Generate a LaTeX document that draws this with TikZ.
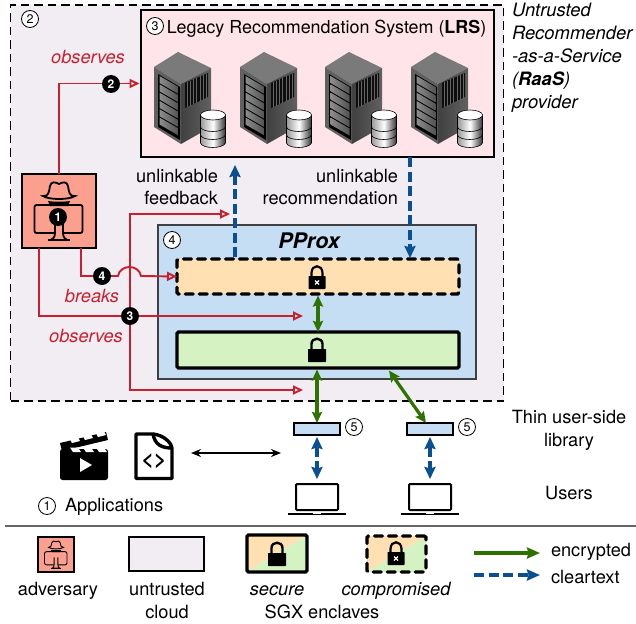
\documentclass[tikz,border=0pt]{standalone}
\usepackage{fontspec}
\setmainfont{TeX Gyre Heros}
\usetikzlibrary{arrows.meta}
\pgfdeclarelayer{top}
\pgfsetlayers{main,top}
\definecolor{nube}{HTML}{F2EDF3}
\definecolor{rosa}{HTML}{FFE4E9}
\definecolor{salmon}{HTML}{FBA08F}
\definecolor{celeste}{HTML}{C5DEF3}
\definecolor{crema}{HTML}{FFE0B2}
\definecolor{verdeclaro}{HTML}{D5F2C2}
\definecolor{rojo}{HTML}{C8202F}
\definecolor{verde}{HTML}{2E7300}
\definecolor{azul}{HTML}{0A4F8F}

\tikzset{
  punta/.tip={Stealth[length=12pt, width=11pt, inset=1.5pt]},
  estilo diagrama/.style={
      x=1pt, y=-1pt,
      every node/.style={font={\fontsize{18.2}{22.5}\selectfont}, inner sep=0pt, outer sep=0pt},
      caja/.style={draw, rectangle, anchor=north west, line width=1.8pt},
      enclave/.style={caja, line width=3.4pt, rounded corners=1.5pt},
      roto/.style={dash pattern=on 8pt off 6pt, line cap=round},
      num/.style={circle, draw, fill=white, minimum size=17pt, line width=.8pt, font={\fontsize{12.5}{12}\selectfont}},
      punto/.style={circle, fill=black, text=white, minimum size=18pt, font={\fontsize{12}{12}\bfseries\selectfont}},
      ataque/.style={rojo, line width=1.9pt, -{Triangle[open, length=10pt, width=9pt]}},
      cifrado/.style={verde, line width=3.2pt, {Stealth[length=11pt, width=10pt, inset=1.5pt]}-{Stealth[length=11pt, width=10pt, inset=1.5pt]}},
      claro/.style={azul, line width=3.2pt, dash pattern=on 10pt off 4.5pt},
      rojizo/.style={text=rojo, font={\fontsize{18.2}{20}\itshape\selectfont}},
      cursiva/.style={font={\fontsize{18.2}{20}\itshape\selectfont}},
      diagonal/.style={path picture={
          \fill[crema] (path picture bounding box.south west) -- (path picture bounding box.north west) -- (path picture bounding box.north east) -- cycle;
          \fill[verdeclaro] (path picture bounding box.south west) -- (path picture bounding box.south east) -- (path picture bounding box.north east) -- cycle;}},
    },
  servidor/.pic={
      \fill[black!52] (0,15) -- (24,0) -- (57,16) -- (27,32) -- cycle;
      \shade[left color=black!75, right color=black!62] (27,32) -- (57,16) -- (57,75) -- (27,92) -- cycle;
      \fill[black!62] (0,15) -- (27,32) -- (27,92) -- (0,75) -- cycle;
      \fill[black] (4,22) -- (26,35) -- (26,88) -- (4,75) -- cycle;
      \foreach \i in {0,...,5}
        \shade[left color=black!45, right color=black!68] (5.5,24+8.3*\i) -- (24.5,35+8.3*\i) -- (24.5,42+8.3*\i) -- (5.5,31+8.3*\i) -- cycle;
      \fill[black!95] (31,31) -- (54,21) -- (54,45) -- (31,56) -- cycle;
      \foreach \i in {0,...,6}
        \draw[black!60, line width=.5pt] (33+3.2*\i,30-1.4*\i) -- (33+3.2*\i,55-1.4*\i);
      \foreach \t/\b in {80/91,72/83,63/75}
        \shade[draw=black, line width=.6pt, left color=black!40, right color=black!80, middle color=white]
          (46.5,\b) .. controls (48,\b+6) and (69,\b+6) .. (71.5,\b) -- (71.5,\t) .. controls (69,\t+6) and (48,\t+6) .. (46.5,\t) -- cycle;
      \filldraw[fill=white, draw=black, line width=.6pt] (59,63) ellipse [x radius=12.5, y radius=5];
    },
  espia/.pic={
      \draw[fill=salmon] (-16,-15) .. controls (-10,-14) and (-10,-20) .. (-9,-25) .. controls (-8,-30) and (-3,-29) .. (0,-27) .. controls (3,-29) and (8,-30) .. (9,-25) .. controls (10,-20) and (10,-14) .. (16,-15) .. controls (10,-11) and (-10,-11) .. cycle;
      \fill (-11,-10) .. controls (-5,-9) and (5,-9) .. (11,-10) -- (9,-5) -- (-9,-5) -- cycle;
      \draw[rounded corners=2pt] (-24.5,-6) rectangle (23.5,22);
      \draw[fill=salmon] (-4,6) -- (-4,22) .. controls (-4,26) and (-6,28) .. (-8,29) -- (8,29) .. controls (6,28) and (4,26) .. (4,22) -- (4,6);
      \draw (-11,29) -- (11,29);
    },
  candado/.pic={
      \fill[rounded corners=.6pt] (-9,-13) rectangle (9,0);
      \draw[line width=2.4pt] (-5.5,-12) -- (-5.5,-18) .. controls (-5.5,-25) and (5.5,-25) .. (5.5,-18) -- (5.5,-12);
    },
  candado roto/.pic={
      \fill[rounded corners=.6pt] (-8.5,-13) rectangle (8.5,0);
      \draw[line width=2.2pt] (-5.5,-12) -- (-5.5,-16) .. controls (-5.5,-25) and (5.5,-25) .. (5.5,-16) -- (5.5,-12);
      \draw[white, line width=1.2pt] (-2,-8.5) -- (2,-4.5) (-2,-4.5) -- (2,-8.5);
    },
  portatil/.pic={
      \draw[line width=2pt, rounded corners=1pt] (-21,26) -- (-21,0) -- (21,0) -- (21,26) -- cycle;
      \draw[line width=2.4pt] (-29,30) -- (29,30);
      \draw[white, line width=1pt] (-4,29.5) -- (4,29.5);
    },
}

\begin{document}
\begin{tikzpicture}[estilo diagrama]
  \useasboundingbox (0,0) rectangle (636,623);

  \node[caja, fill=nube, line width=1.8pt, dash pattern=on 8.5pt off 5pt, minimum width=493pt, minimum height=396pt] (cloud) at (10.5,5) {};
  \node[caja, fill=rosa, line width=2pt, minimum width=353pt, minimum height=147pt] (lrs) at (141,10) {};
  \node[caja, fill=celeste, draw=black!75, line width=1.3pt, minimum width=318pt, minimum height=154pt] (pprox) at (158,225) {};
  \node[enclave, fill=crema, roto, minimum width=282pt, minimum height=35pt] (comp) at (177,259) {};
  \node[enclave, fill=verdeclaro, minimum width=282pt, minimum height=36pt] (seg) at (177,332) {};
  \node[caja, fill=salmon, minimum width=74pt, minimum height=74pt] (adv) at (22,174) {};
  \node[caja, fill=celeste, line width=1.5pt, minimum width=46pt, minimum height=12pt] (lib1) at (294,423) {};
  \node[caja, fill=celeste, line width=1.5pt, minimum width=46pt, minimum height=12pt] (lib2) at (407,423) {};

  \node[num] (n2) at (30,19) {2};
  \node[num] (n3) at (155,26) {3};
  \node[num] (n4) at (172,240) {4};
  \node[num] (n5a) at (354,427) {5};
  \node[num] (n5b) at (467,427) {5};
  \node[num] (n1) at (47,506) {1};

  \node[font={\fontsize{17.9}{22}\selectfont}] (tlrs) at (326.5,29) {Legacy Recommendation System (\textbf{LRS})};
  \node[font={\fontsize{21.5}{22}\bfseries\itshape\selectfont}] (tpprox) at (309,241) {PProx};
  \node[anchor=north west, align=left, font={\fontsize{18.4}{23}\itshape\selectfont}] (traas) at (512,3) {Untrusted\\Recommender\\-as-a-Service\\(\textbf{RaaS})\\provider};
  \node[anchor=east, align=right] (tfeed) at (218,187) {unlinkable\\feedback};
  \node[anchor=east, align=right] (treco) at (398,187) {unlinkable\\recommendation};
  \node[align=center, font={\fontsize{18.2}{23}\selectfont}] (tlib) at (569,430) {Thin user-side\\library};
  \node (tusers) at (569,493) {Users};
  \node[anchor=west] (tapps) at (65,506.5) {Applications};

  \pic at (154,52) {servidor};
  \pic at (240,52) {servidor};
  \pic at (325,52) {servidor};
  \pic at (411,52) {servidor};

  \pic[line width=1.8pt] at (59,211) {espia};
  \pic at (317,289) {candado roto};
  \pic at (317,362) {candado};
  \pic at (317,484) {portatil};
  \pic at (430,484) {portatil};

  % iconos de las aplicaciones
  \fill[rounded corners=2.5pt] (60,449) rectangle (108,480);
  \fill (60,443) -- (106,432) -- (108,440) -- (62,451) -- cycle;
  \foreach \i in {0,1,2}
    \fill[white] (72+13*\i,443-3*\i) -- (80+13*\i,441-3*\i) -- (77+13*\i,435.5-3*\i) -- (69+13*\i,437.5-3*\i) -- cycle;
  \foreach \i in {0,1,2}
    \fill[white] (73+13*\i,452) -- (81+13*\i,452) -- (78+13*\i,447.5) -- (70+13*\i,447.5) -- cycle;
  \fill[white] (80,458) -- (92,465) -- (80,472) -- cycle;
  \draw[line width=3.4pt, line join=round] (136,434) -- (153,434) .. controls (155,445) and (162,448) .. (172,448) -- (172,478.5) -- (136,478.5) -- cycle;
  \draw[line width=3.4pt] (153,434) .. controls (163,435) and (171,442) .. (172,448);
  \node[font={\fontsize{21}{21}\bfseries\selectfont}] (tcode) at (154,461) {<>};

  \coordinate (sepl) at (5,526);
  \coordinate (sepr) at (636,526);
  \coordinate (iz) at (39,248);
  \coordinate (de) at (81,248);
  \coordinate (cruce) at (130,316);
  \coordinate (fbfin) at (230,214);
  \coordinate (obsa) at (303,316);
  \coordinate (obsb) at (303,390);
  \coordinate (subea) at (235,257);
  \coordinate (subeb) at (235,165);
  \coordinate (bajaa) at (410,157);
  \coordinate (bajab) at (410,258);
  \coordinate (sega) at (317,369.5);
  \coordinate (segb) at (389,370.5);
  \coordinate (lib2top) at (426,423);
  \coordinate (appa) at (191,453);
  \coordinate (appb) at (281,453);
  \coordinate (enca) at (474,553);
  \coordinate (encb) at (540,553);
  \coordinate (cleara) at (474,575);
  \coordinate (clearb) at (540,575);
  \coordinate (usera) at (317,479);
  \coordinate (userb) at (430,479);

  \begin{pgfonlayer}{top}
    \node[punto] (d1) at (58,217) {1};
    \node[punto] (d2) at (111,84) {2};
    \node[punto] (d3) at (cruce) {3};
    \node[punto] (d4) at (102,276) {4};
  \end{pgfonlayer}

  \draw[ataque, shorten >=1.5pt] (adv.north) |- (lrs.west);
  \draw[ataque] (iz) |- (obsa);
  \draw[ataque] (d3.center) |- (fbfin);
  \draw[ataque] (d3.center) |- (obsb);
  \draw[rojo, line width=1.9pt] (de) |- (d4);
  \draw[ataque] (d4) -- (118,276) .. controls (120,264) and (139,264) .. (141,276) -- (comp.west);

  \draw[claro, -{punta}] (subea) -- (subeb);
  \draw[claro, -{punta}] (bajaa) -- (bajab);
  \draw[cifrado] (comp.south -| seg.center) ++(0,1.5) -- (seg.north);
  \draw[cifrado] (sega) -- (lib1.north -| sega);
  \draw[cifrado] (segb) -- (lib2top);
  \draw[claro, {punta}-{punta}] (lib1.south) ++(0,2) -- (usera);
  \draw[claro, {punta}-{punta}] (lib2.south) ++(0,2) -- (userb);
  \draw[line width=1.3pt, {Stealth[length=10pt, width=8pt]}-{Stealth[length=10pt, width=8pt]}] (appa) -- (appb);

  \node[rojizo] (obs1) at (88,57) {observes};
  \node[rojizo] (brk) at (92,295.5) {breaks};
  \node[rojizo] (obs2) at (86,335.5) {observes};

  % leyenda
  \draw[black!60, line width=1.2pt] (sepl) -- (sepr);
  \node[caja, fill=salmon, line width=1.6pt, minimum width=36pt, minimum height=35pt] (leg1) at (38,537) {};
  \pic[scale=.47, line width=.9pt] at (56,554.5) {espia};
  \node[caja, fill=nube, line width=1.5pt, minimum width=75pt, minimum height=34pt] (leg2) at (129,537) {};
  \node[enclave, diagonal, minimum width=60pt, minimum height=37pt] (leg3) at (247,535) {};
  \pic at (277,566) {candado};
  \node[enclave, diagonal, roto, minimum width=59pt, minimum height=36pt] (leg4) at (367,536) {};
  \pic at (396,565) {candado roto};
  \node (tadv) at (58,590.5) {adversary};
  \node[align=center] (tuntr) at (167,600.5) {untrusted\\cloud};
  \node[cursiva] (tsec) at (277,590.5) {secure};
  \node[cursiva] (tcom) at (396,590.5) {compromised};
  \node (tsgx) at (322,611.5) {SGX enclaves};
  \draw[verde, line width=3.2pt, -{Stealth[length=13pt, width=11pt, inset=1.5pt]}] (enca) -- (encb);
  \draw[claro, -{Stealth[length=13pt, width=11pt, inset=1.5pt]}] (cleara) -- (clearb);
  \node[anchor=west] (tenc) at (551,552) {encrypted};
  \node[anchor=west] (tcle) at (551,577) {cleartext};
\end{tikzpicture}
\end{document}
